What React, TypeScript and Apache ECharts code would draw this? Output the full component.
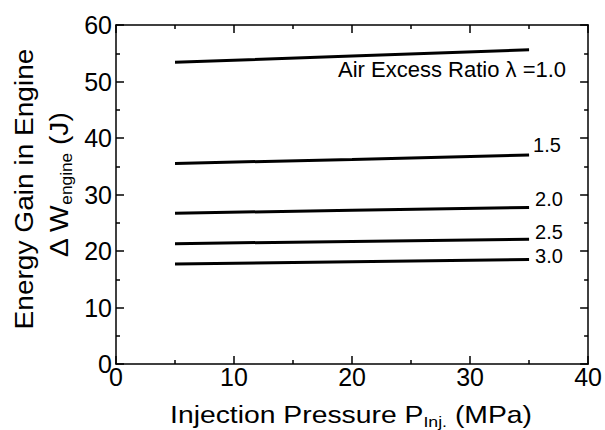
import React, { useEffect, useRef } from 'react';
import * as echarts from 'echarts';

// ---- data ----
const pressure = [5, 20, 35];
const lambda10 = [53.4, 54.5, 55.6];
const lambda15 = [35.5, 36.2, 37.0];
const lambda20 = [26.7, 27.2, 27.7];
const lambda25 = [21.3, 21.7, 22.1];
const lambda30 = [17.7, 18.1, 18.5];
const seriesValues = [lambda10, lambda15, lambda20, lambda25, lambda30];
const seriesLabels = ['Air Excess Ratio λ =1.0', '1.5', '2.0', '2.5', '3.0'];
const xRange = [0, 40];
const yRange = [0, 60];
const xStep = 10;
const yStep = 10;

const FONT = "'Liberation Sans', Arial, sans-serif";

const labelPlacement = [
  { align: 'right', offset: [37, 20], fontSize: 22 },
  { align: 'left', offset: [4, -10], fontSize: 20 },
  { align: 'left', offset: [6, -8], fontSize: 20 },
  { align: 'left', offset: [6, -7], fontSize: 20 },
  { align: 'left', offset: [6, -3], fontSize: 20 },
];

function makeAxis(pos: string, range: number[], step: number, inside: boolean, len: number, minorLen: number, label: any) {
  return {
    type: 'value',
    position: pos,
    min: range[0],
    max: range[1],
    interval: step,
    axisLine: { show: true, onZero: false, lineStyle: { color: '#000', width: 1.5 } },
    axisTick: { show: true, inside: inside, length: len, lineStyle: { color: '#000', width: 1.5 } },
    minorTick: { show: true, splitNumber: 2, length: minorLen, lineStyle: { color: '#000', width: 1.5 } },
    splitLine: { show: false },
    minorSplitLine: { show: false },
    axisLabel: label,
  };
}

export default function App() {
  const ref = useRef<HTMLDivElement>(null);
  useEffect(() => {
    if (!ref.current) return;
    const chart = echarts.init(ref.current, undefined, { renderer: 'svg' });

    const series = seriesValues.map((vals, i) => {
      const last = vals.length - 1;
      const p = labelPlacement[i];
      return {
        type: 'line',
        name: seriesLabels[i],
        data: pressure.map((x, j) => [x, vals[j]]),
        showSymbol: false,
        symbol: 'none',
        lineStyle: { color: '#000', width: 3 },
        silent: true,
        markPoint: {
          symbol: 'circle',
          symbolSize: 1,
          itemStyle: { color: 'rgba(0,0,0,0)' },
          silent: true,
          data: [
            {
              coord: [pressure[last], vals[last]],
              label: {
                show: true,
                position: 'inside',
                formatter: seriesLabels[i],
                align: p.align,
                verticalAlign: 'middle',
                offset: p.offset,
                color: '#000',
                fontSize: p.fontSize,
                fontFamily: FONT,
              },
            },
          ],
        },
      };
    });

    const tickLabel = (margin: number) => ({ show: true, color: '#000', fontSize: 25, fontFamily: FONT, margin });

    chart.setOption({
      animation: false,
      backgroundColor: '#fff',
      grid: { left: 116, right: 14, top: 25, bottom: 66 },
      xAxis: [
        makeAxis('bottom', xRange, xStep, true, 8, 4, tickLabel(0)),
        makeAxis('top', xRange, xStep, true, 8, 4, { show: false }),
      ],
      yAxis: [
        makeAxis('left', yRange, yStep, true, 8, 4, tickLabel(4)),
        makeAxis('right', yRange, yStep, true, 8, 4, { show: false }),
      ],
      series,
      graphic: [
        {
          type: 'text',
          x: 351,
          y: 400,
          scaleX: 1.18,
          silent: true,
          style: {
            text: '{m|Injection Pressure P}{s|Inj.}{m| (MPa)}',
            align: 'center',
            verticalAlign: 'top',
            fill: '#000',
            fontFamily: FONT,
            rich: {
              m: { fontSize: 24, lineHeight: 29, verticalAlign: 'middle', fontFamily: FONT, fill: '#000' },
              s: { fontSize: 15, lineHeight: 29, verticalAlign: 'bottom', fontFamily: FONT, fill: '#000' },
            },
          },
        },
        {
          type: 'text',
          x: 24.5,
          y: 189,
          rotation: Math.PI / 2,
          scaleX: 1.08,
          silent: true,
          style: {
            text: 'Energy Gain in Engine',
            align: 'center',
            verticalAlign: 'middle',
            fill: '#000',
            fontSize: 26,
            fontFamily: FONT,
          },
        },
        {
          type: 'text',
          x: 44,
          y: 185,
          rotation: Math.PI / 2,
          scaleX: 1.08,
          silent: true,
          style: {
            text: '{m|Δ W}{s|engine}{m| (J)}',
            align: 'center',
            verticalAlign: 'top',
            fill: '#000',
            fontFamily: FONT,
            rich: {
              m: { fontSize: 26, lineHeight: 31, verticalAlign: 'middle', fontFamily: FONT, fill: '#000' },
              s: { fontSize: 16, lineHeight: 31, verticalAlign: 'bottom', fontFamily: FONT, fill: '#000' },
            },
          },
        },
      ],
    });

    return () => chart.dispose();
  }, []);

  return (
    <div
      ref={ref}
      style={{ position: 'fixed', left: 0, top: 0, width: 605, height: 430, background: '#fff' }}
    />
  );
}
